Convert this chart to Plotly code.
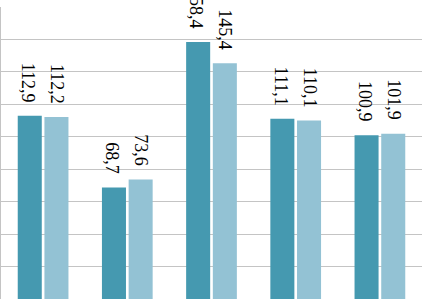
import plotly.graph_objects as go

categories = ["A", "B", "C", "D", "E"]
series1 = [112.9, 68.7, 158.4, 111.1, 100.9]
series2 = [112.2, 73.6, 145.4, 110.1, 101.9]

def fmt(v):
    return f"{v:.1f}".replace(".", ",")

fig = go.Figure()
fig.add_trace(go.Bar(x=categories, y=series1, marker=dict(color="#4599b0", line=dict(width=0))))
fig.add_trace(go.Bar(x=categories, y=series2, marker=dict(color="#93c2d4", line=dict(width=0))))

annotations = []
for cat, v in zip(categories, series1):
    annotations.append(dict(x=cat, y=v, text=fmt(v), showarrow=False, textangle=90,
                            xshift=-15, yshift=11, yanchor="bottom", xanchor="center"))
for cat, v in zip(categories, series2):
    annotations.append(dict(x=cat, y=v, text=fmt(v), showarrow=False, textangle=90,
                            xshift=14, yshift=11, yanchor="bottom", xanchor="center"))

fig.update_layout(
    width=422, height=300,
    margin=dict(l=1, r=0, t=7, b=1),
    paper_bgcolor="white", plot_bgcolor="white",
    showlegend=False,
    barmode="group", bargap=0.366, bargroupgap=0.1,
    font=dict(family="Liberation Serif, Times New Roman, serif", size=18, color="black"),
    annotations=annotations,
    xaxis=dict(showticklabels=False, ticks="", showgrid=False, zeroline=False,
               showline=False),
    yaxis=dict(range=[0, 180], dtick=20, showticklabels=False, ticks="",
               showgrid=True, gridcolor="#c4c4c4", gridwidth=1, zeroline=False,
               showline=True, linecolor="#c4c4c4", linewidth=1),
)
fig.update_annotations(font=dict(family="Liberation Serif, Times New Roman, serif", size=18, color="black"))

fig.write_html("out.html", config={"displayModeBar": False},
               post_script="document.body.style.margin='0';")
